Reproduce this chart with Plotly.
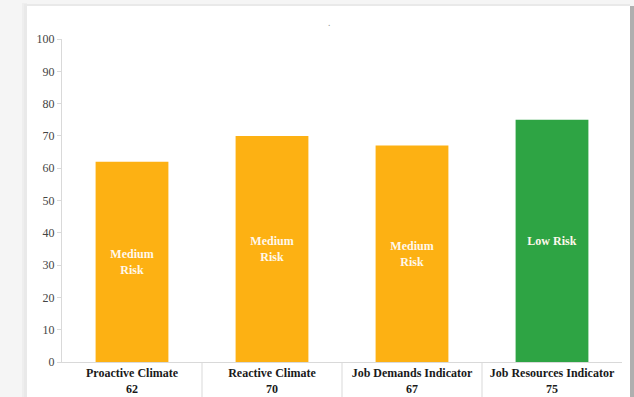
import plotly.graph_objects as go

categories = ["Proactive Climate", "Reactive Climate", "Job Demands Indicator", "Job Resources Indicator"]
values = [62, 70, 67, 75]
risk_labels = ["Medium<br>Risk", "Medium<br>Risk", "Medium<br>Risk", "Low Risk"]
bar_colors = ["#FDB113", "#FDB113", "#FDB113", "#2EA444"]
tick_vals = list(range(0, 101, 10))

x_labels = [f"<b>{c}<br>{v}</b>" for c, v in zip(categories, values)]

fig = go.Figure()
fig.add_trace(go.Bar(
    x=x_labels,
    y=values,
    marker=dict(color=bar_colors, line=dict(width=0)),
    text=[f"<b>{t}</b>" for t in risk_labels],
    textposition="inside",
    insidetextanchor="middle",
    textangle=0,
    textfont=dict(family="Liberation Serif", size=12, color="#FFF8EC"),
    hoverinfo="skip",
    width=0.52,
))

PW, PH = 560.0, 323.0  # plot area size in px
def px_x(p):
    return (p - 62) / PW
def px_y(p):
    return (362 - p) / PH

shapes = []
# soft shadow left of card
shapes.append(dict(type="rect", xref="paper", yref="paper", x0=px_x(22), x1=px_x(27), y0=px_y(420), y1=px_y(3),
                   fillcolor="#EEEEEE", line=dict(width=0), layer="below"))
shapes.append(dict(type="rect", xref="paper", yref="paper", x0=px_x(24), x1=px_x(630), y0=px_y(420), y1=px_y(4),
                   fillcolor="#E9E9E9", line=dict(width=0), layer="below"))
# card
shapes.append(dict(type="rect", xref="paper", yref="paper", x0=px_x(27), x1=px_x(630), y0=px_y(420), y1=px_y(6),
                   fillcolor="white", line=dict(width=0), layer="below"))
# darker right edge
shapes.append(dict(type="rect", xref="paper", yref="paper", x0=px_x(630), x1=px_x(634), y0=px_y(420), y1=px_y(6),
                   fillcolor="#AFAFAF", line=dict(width=0), layer="below"))
# category dividers below the axis
for i in range(len(categories) - 1):
    shapes.append(dict(type="line", xref="x", yref="paper", x0=i + 0.5, x1=i + 0.5, y0=0, y1=-0.12,
                       line=dict(color="#D9D9D9", width=1)))

fig.update_layout(
    width=634, height=397,
    margin=dict(l=62, r=12, t=39, b=35),
    paper_bgcolor="#F5F5F5",
    plot_bgcolor="white",
    showlegend=False,
    shapes=shapes,
    annotations=[dict(text=".", xref="paper", yref="paper", x=px_x(329), y=px_y(14), showarrow=False,
                      font=dict(size=9, color="#888888"))],
)
fig.update_xaxes(
    type="category",
    automargin=False,
    showline=True, linecolor="#D9D9D9", linewidth=1,
    ticks="", showgrid=False,
    tickfont=dict(family="Liberation Serif", size=12, color="#1a1a1a"),
    range=[-0.5, 3.5],
)
fig.update_yaxes(
    range=[0, 100],
    automargin=False,
    tickvals=tick_vals,
    showgrid=False, zeroline=False,
    showline=True, linecolor="#D9D9D9", linewidth=1,
    ticks="outside", ticklen=4, tickcolor="#D9D9D9",
    tickfont=dict(family="Liberation Serif", size=12, color="#444444"),
)

fig.write_html("out.html", config={"displayModeBar": False},
               post_script="document.body.style.margin='0';document.body.style.overflow='hidden';")
